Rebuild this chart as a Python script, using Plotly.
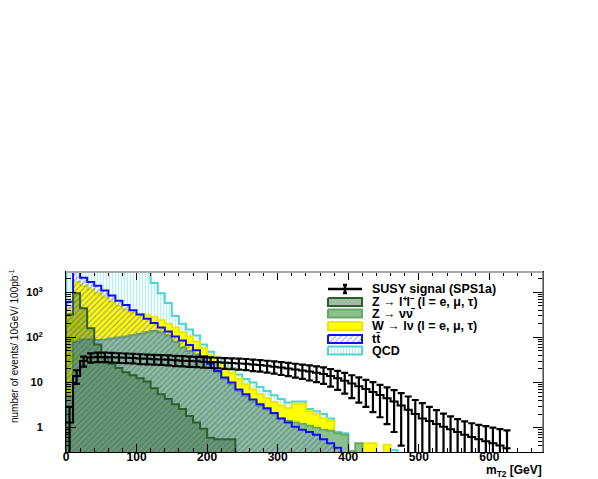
import numpy as np
import plotly.graph_objects as go

# m_T2 histograms, 10 GeV bins starting at 0
bin_width = 10

qcd = [5000, 5000, 5000, 5000, 5000, 5000, 5000, 5000, 5000, 5000, 5000, 5000,
       1600, 950, 580, 300, 200, 150, 110, 70, 48, 36, 28, 21, 15, 12, 10, 8,
       6.5, 5.2, 4.3, 3.6, 3.8, 3.8, 2.6, 2.3, 2.0, 1.6, 0.8, 0.75, 0.3,
       0, 0, 0, 0, 0, 0.32, 0]
w_lnu = [450, 1700, 1400, 1150, 950, 780, 620, 500, 410, 350, 330, 310, 280,
         240, 200, 165, 130, 105, 80, 58, 40, 29, 21, 16, 12, 9, 7, 5.5, 4.5,
         3.7, 3.1, 2.7, 3.4, 3.4, 2.3, 2.0, 1.6, 1.4, 0.5, 0, 0, 0, 0.45, 0.45,
         0, 0.42, 0, 0]
ttbar = [620, 3500, 2100, 1700, 1400, 1100, 850, 650, 520, 400, 320, 260, 210,
         165, 135, 105, 85, 68, 52, 38, 26, 18, 13, 10, 7, 5.5, 4.2, 3.3, 2.7,
         2.1, 1.6, 1.3, 1.05, 0.9, 0.8, 0.7, 0.55, 0.45, 0.36,
         0, 0, 0, 0, 0, 0, 0, 0, 0]
z_nunu = [5, 80, 90, 90, 88, 90, 95, 100, 105, 112, 120, 130, 138, 130, 110,
          80, 60, 50, 42, 33, 24, 17, 12, 9, 6.5, 5, 3.8, 3.0, 2.5, 2.0, 1.6,
          1.4, 1.3, 1.2, 1.1, 1.0, 0.9, 0.85, 0.75, 0.7, 0.3, 0.45,
          0, 0, 0, 0, 0, 0]
z_ll = [320, 950, 445, 160, 70, 35, 26, 21, 17, 14.5, 12.5, 10.5, 7.5, 5.5,
        4.3, 3.3, 2.6, 1.8, 1.3, 0.95, 0.6, 0.55, 0.55, 0.55,
        0, 0, 0, 0, 0, 0, 0, 0, 0, 0, 0, 0, 0, 0, 0, 0, 0, 0, 0, 0, 0, 0, 0, 0]

susy = [1.3, 14, 30, 36, 37, 37, 36.5, 36, 35.5, 35, 34, 33.5, 33, 32.5, 32,
        31, 30.5, 30, 29.5, 29, 28.5, 28, 27.5, 27, 26.5, 26, 25, 24.5, 23.5,
        22.5, 21.5, 20.5, 19.5, 18.5, 17.5, 16.5, 15.5, 14, 12.5, 11, 9.5, 8.3,
        7.2, 6.2, 5.3, 4.5, 3.8, 3.1, 2.5, 2.0, 1.6, 1.4, 1.2, 1.05, 0.92, 0.8,
        0.7, 0.62, 0.55, 0.5, 0.45, 0.4, 0.35]
susy_err = [1.6, 4.7, 7.5, 8.5, 8.8, 8.8, 8.7, 8.6, 8.5, 8.4, 8.3, 8.2, 8.1,
            8.0, 8.0, 7.9, 7.8, 7.7, 7.6, 7.6, 7.5, 7.4, 7.4, 7.3, 7.2, 7.2,
            7.1, 7.0, 6.9, 6.8, 6.8, 6.7, 6.6, 6.5, 6.4, 6.3, 6.2, 5.9, 5.6,
            5.3, 5.0, 4.7, 4.3, 4.0, 3.6, 3.3, 3.0, 2.7, 2.4, 2.1, 1.9, 1.5,
            1.25, 1.0, 0.85, 0.75, 0.68, 0.63, 0.6, 0.58, 0.55, 0.53, 0.52]

x_ticks = [0, 100, 200, 300, 400, 500, 600]
y_ticks = [1, 10, 100, 1000]
y_ticktext = ["1", "10", "10<sup>2</sup>", "10<sup>3</sup>"]

legend_labels = ["SUSY signal (SPS1a)",
                 "Z \u2192 l\u207al\u207b (l = e, \u03bc, \u03c4)",
                 "Z \u2192 \u03bd\u03bd\u0304",
                 "W \u2192 l\u03bd (l = e, \u03bc, \u03c4)",
                 "tt\u0304",
                 "QCD"]

FONT = "Liberation Sans, Arial, sans-serif"
FLOOR = 1e-3
CLEAR = "rgba(0,0,0,0)"

# plot area in page pixels; the page body adds an 8 px offset
L, R, T, B = 66, 543, 272, 452
OFF = 8
W, H = 598, 479


def outline(vals):
    v = np.asarray(vals, dtype=float)
    v = np.where(v > 0, v, FLOOR)
    n = len(v)
    x = np.concatenate([[0], np.arange(n + 1) * bin_width])
    y = np.concatenate([[FLOOR], v, [FLOOR]])
    return x, y


qcd_fill = dict(fillcolor="white",
                fillpattern=dict(shape="|", fgcolor="#6fe0ea", bgcolor="white",
                                 size=3, solidity=0.45))
tt_fill = dict(fillcolor=CLEAR,
               fillpattern=dict(shape="/", fgcolor="#4a4ae0", bgcolor=CLEAR,
                                size=4, solidity=0.3))

fig = go.Figure()

styles = [
    (qcd, "#4fd4d6", qcd_fill),
    (w_lnu, "#e8e800", dict(fillcolor="#ffff00")),
    (z_nunu, "#6aa86a", dict(fillcolor="#8cc08c")),
    (ttbar, "#1010ff", tt_fill),
    (z_ll, "#2f5f2f", dict(fillcolor="rgba(47,95,47,0.38)")),
]
for vals, lc, fillkw in styles:
    x, y = outline(vals)
    fig.add_trace(go.Scatter(x=x, y=y, mode="lines", line=dict(color=lc, width=2, shape="hv"),
                             fill="tozeroy", hoverinfo="skip", **fillkw))

# signal: step line plus error bars
n_sig = len(susy)
sx = np.arange(n_sig + 1) * bin_width
sy = list(susy) + [susy[-1]]
fig.add_trace(go.Scatter(x=sx, y=sy, mode="lines",
                         line=dict(color="black", width=2, shape="hv")))
fig.add_trace(go.Scatter(x=np.arange(n_sig) * bin_width + bin_width / 2, y=susy,
                         mode="markers", marker=dict(size=1, color="black"),
                         error_y=dict(type="data", array=susy_err, color="black",
                                      thickness=2.2, width=3.5)))

# legend drawn on a pixel-space overlay
row_y = [289, 302, 313.5, 326, 339, 350.5]
bx0, bx1, bh = 328, 362, 4
fig.add_trace(go.Scatter(x=[bx0, bx1], y=[row_y[0], row_y[0]], mode="lines",
                         line=dict(color="black", width=2.5), xaxis="x2", yaxis="y2"))
fig.add_trace(go.Scatter(x=[(bx0 + bx1) / 2], y=[row_y[0]], mode="markers",
                         marker=dict(size=1, color="black"), xaxis="x2", yaxis="y2",
                         error_y=dict(type="constant", value=4, color="black",
                                      thickness=2.5, width=2)))
box_styles = [
    ("#2f5f2f", dict(fillcolor="#8fb08f",
                     fillpattern=dict(shape="x", fgcolor="#6f8f6f", bgcolor="#a8c4a8",
                                      size=3, solidity=0.3))),
    ("#6aa86a", dict(fillcolor="#8cc08c")),
    ("#e8e800", dict(fillcolor="#ffff00")),
    ("#1010ff", dict(fillcolor="white",
                     fillpattern=dict(shape="/", fgcolor="#6060ff", bgcolor="white",
                                      size=4, solidity=0.3))),
    ("#4fd4d6", qcd_fill),
]
for yc, (lc, fillkw) in zip(row_y[1:], box_styles):
    fig.add_trace(go.Scatter(x=[bx0, bx1, bx1, bx0, bx0],
                             y=[yc - bh, yc - bh, yc + bh, yc + bh, yc - bh],
                             mode="lines", fill="toself", line=dict(color=lc, width=2),
                             xaxis="x2", yaxis="y2", **fillkw))


def px(xp):
    return (xp - L) / (R - L)


def py(yp):
    return (B - yp) / (B - T)


annotations = []
for yc, text in zip(row_y, legend_labels):
    annotations.append(dict(x=px(370), y=py(yc), xref="paper", yref="paper", text=text,
                            showarrow=False, xanchor="left", yanchor="middle",
                            font=dict(family=FONT, size=12.5, color="black", weight="bold")))
annotations.append(dict(x=px(14), y=py(267), xref="paper", yref="paper",
                        text="number of events/ 10GeV/ 100pb<sup>-1</sup>", textangle=-90,
                        showarrow=False, xanchor="center", yanchor="top",
                        font=dict(family=FONT, size=10, color="black")))
annotations.append(dict(x=px(544), y=py(471), xref="paper", yref="paper",
                        text="m<sub>T2</sub> [GeV]", showarrow=False,
                        xanchor="right", yanchor="middle",
                        font=dict(family=FONT, size=12, color="black", weight="bold")))

# ROOT-like grey frame on top and right
frame = [dict(type="line", xref="paper", yref="paper", x0=0, x1=1, y0=1, y1=1,
              line=dict(color="#a8a8a8", width=2)),
         dict(type="line", xref="paper", yref="paper", x0=1, x1=1, y0=0, y1=1,
              line=dict(color="#707070", width=1.5))]

fig.update_layout(
    width=W, height=H,
    margin=dict(l=L - OFF, r=W - (R - OFF), t=T - OFF, b=H - (B - OFF), autoexpand=False),
    plot_bgcolor="white", paper_bgcolor="white",
    showlegend=False,
    annotations=annotations,
    shapes=frame,
    xaxis=dict(range=[0, 676], tickvals=x_ticks, ticks="inside", ticklen=8,
               tickcolor="black", showline=True, linecolor="black", linewidth=1,
               mirror="ticks", showgrid=False, zeroline=False, ticklabelstandoff=-6,
               tickfont=dict(family=FONT, size=12, color="black", weight="bold"),
               minor=dict(ticks="inside", ticklen=4, dtick=20, tickcolor="black",
                          showgrid=False)),
    yaxis=dict(type="log", range=[-0.54, 3.45], tickvals=y_ticks, ticktext=y_ticktext,
               ticks="inside", ticklen=10, tickcolor="black", showline=True,
               linecolor="black", linewidth=1, mirror="ticks", showgrid=False,
               zeroline=False, ticklabelstandoff=20,
               tickfont=dict(family=FONT, size=11, color="black", weight="bold"),
               minor=dict(ticks="inside", ticklen=5, tickcolor="black", showgrid=False,
                          tickvals=[0.3, 0.4, 0.5, 0.6, 0.7, 0.8, 0.9,
                                    2, 3, 4, 5, 6, 7, 8, 9,
                                    20, 30, 40, 50, 60, 70, 80, 90,
                                    200, 300, 400, 500, 600, 700, 800, 900, 2000])),
    xaxis2=dict(overlaying="x", range=[L, R], visible=False, fixedrange=True),
    yaxis2=dict(overlaying="y", range=[B, T], visible=False, fixedrange=True),
)

fig.write_html("out.html")
